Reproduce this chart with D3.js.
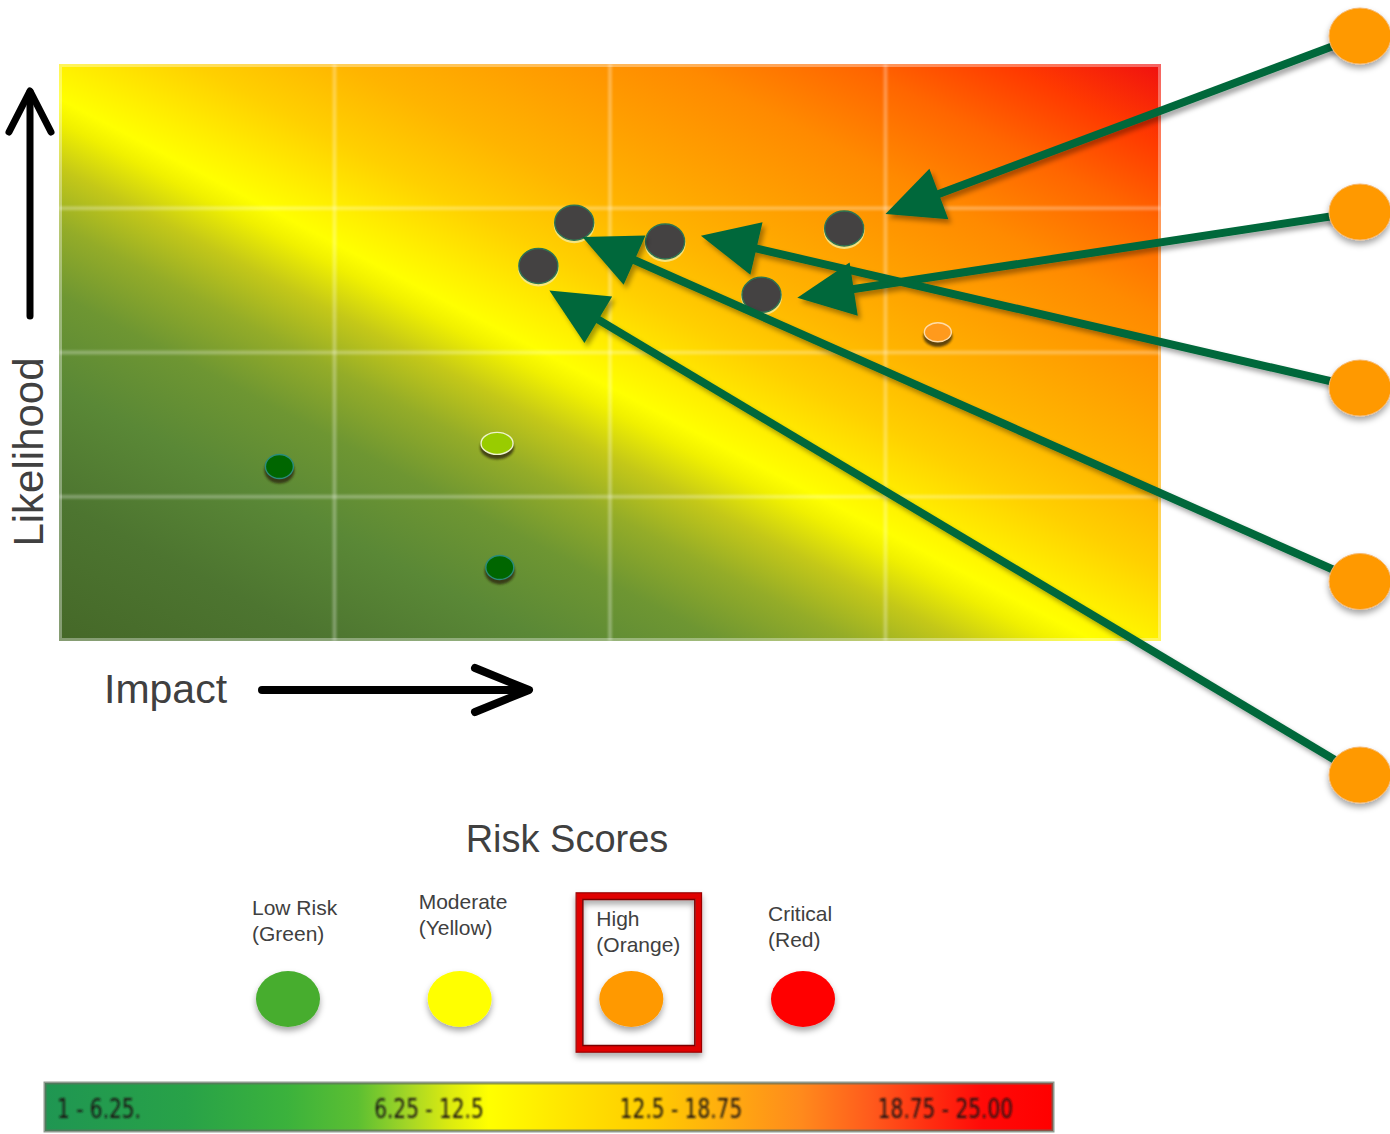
<!DOCTYPE html>
<html>
<head>
<meta charset="utf-8">
<script src="https://cdn.jsdelivr.net/npm/d3@7"></script>
<style>
  html, body { margin: 0; padding: 0; background: #ffffff; }
  svg { display: block; font-family: "Liberation Sans", Arial, Helvetica, sans-serif; }
</style>
</head>
<body>
<svg id="chart" width="1390" height="1134"></svg>
<script>
// ---------------- data ----------------
// Impact / likelihood bands (0–4); inner boundaries get grid lines
const bandEdges = [1, 2, 3];

// Heat colour ramp along the combined impact + likelihood score (0 = low/low, 1 = high/high)
const heatStops  = [0, 0.12, 0.22, 0.30, 0.36, 0.41, 0.45, 0.47, 0.50, 0.56, 0.63, 0.70, 0.78, 0.86, 0.93, 1];
const heatColors = ["#456828", "#4d7530", "#5a8836", "#6e9632", "#94ac28", "#c4c818", "#f0f000", "#ffff00",
                    "#fff000", "#ffd000", "#ffb400", "#ffa000", "#ff8a00", "#ff6600", "#ff3a00", "#f01010"];

// Plotted risks
const riskImpact     = [1.87, 2.20, 2.85, 1.74, 2.55, 3.19, 1.59, 0.80, 1.60];
const riskLikelihood = [2.90, 2.77, 2.86, 2.60, 2.40, 2.14, 1.37, 1.21, 0.51];
const riskStatus     = ["flagged", "flagged", "flagged", "flagged", "flagged", "high", "moderate", "low", "low"];

// High-rated callouts and where each one points on the grid
const calloutIds           = ["A", "B", "C", "D", "E"];
const calloutTipImpact     = [3.00, 2.68, 2.33, 1.90, 1.78];
const calloutTipLikelihood = [2.96, 2.38, 2.81, 2.80, 2.43];

// Risk score legend
const levelNames   = ["Low Risk", "Moderate", "High", "Critical"];
const levelColours = ["(Green)", "(Yellow)", "(Orange)", "(Red)"];
const highlightedLevel = "High";

// Score bar
const scoreRanges     = ["1 - 6.25.", "6.25 - 12.5", "12.5 - 18.75", "18.75 - 25.00"];
const scoreRampStops  = [0, 0.14, 0.24, 0.31, 0.36, 0.40, 0.44, 0.52, 0.60, 0.68, 0.75, 0.82, 0.88, 0.93, 1];
const scoreRampColors = ["#1f9652", "#28a248", "#3bb23c", "#5cbf32", "#a4d626", "#daea10", "#ffff00", "#ffe400",
                         "#ffcc00", "#ffaa10", "#ff8a1c", "#ff5a1c", "#ff2c10", "#ff0a08", "#ff0000"];

// ---------------- styles ----------------
const textColor = "#404040";
const arrowColor = "#04683a";
const statusStyle = {
  flagged:  { fill: "#444242", stroke: "#2e7452", rx: 19.5, ry: 17.5 },
  high:     { fill: "#ff9a1c", stroke: "#ffdca8", rx: 13.5, ry: 9.5 },
  moderate: { fill: "#99cc00", stroke: "#eef4cc", rx: 16,   ry: 11 },
  low:      { fill: "#006600", stroke: "#2a8c7c", rx: 14,   ry: 12 }
};
const levelFill = { "Low Risk": "#46ad2e", "Moderate": "#ffff00", "High": "#ff9900", "Critical": "#ff0000" };

// ---------------- setup ----------------
const svg = d3.select("#chart");
const defs = svg.append("defs");

const x = d3.scaleLinear().domain([0, 4]).range([59, 1161]);
const y = d3.scaleLinear().domain([0, 4]).range([641, 64]);

// shadows
function dropShadow(id, dx, dy, sd, op) {
  const f = defs.append("filter").attr("id", id)
    .attr("x", "-30%").attr("y", "-30%").attr("width", "160%").attr("height", "160%");
  f.append("feDropShadow").attr("dx", dx).attr("dy", dy).attr("stdDeviation", sd)
    .attr("flood-color", "#000").attr("flood-opacity", op);
}
dropShadow("arrowShadow", 3, 4, 2.5, 0.35);
dropShadow("discShadow", 0, 4, 3, 0.35);
defs.append("filter").attr("id", "soft").append("feGaussianBlur").attr("stdDeviation", 1);

// ---------------- heat map ----------------
const heatRamp = d3.scaleLinear().domain(heatStops).range(heatColors);
const heatGrad = defs.append("linearGradient").attr("id", "heat")
  .attr("x1", 0).attr("y1", 1).attr("x2", 1).attr("y2", 0);
heatGrad.selectAll("stop").data(heatStops).join("stop")
  .attr("offset", d => d).attr("stop-color", d => heatRamp(d));

const plot = svg.append("g");
plot.append("rect")
  .attr("x", x(0)).attr("y", y(4))
  .attr("width", x(4) - x(0)).attr("height", y(0) - y(4))
  .attr("fill", "url(#heat)");

// pale frame on the map edges
plot.append("rect")
  .attr("x", x(0) + 1.5).attr("y", y(4) + 1.5)
  .attr("width", x(4) - x(0) - 3).attr("height", y(0) - y(4) - 3)
  .attr("fill", "none").attr("stroke", "#ffffff").attr("stroke-opacity", 0.35).attr("stroke-width", 3);

// band grid
const grid = plot.append("g").attr("filter", "url(#soft)")
  .attr("stroke", "#ffffff").attr("stroke-opacity", 0.28).attr("stroke-width", 4);
grid.selectAll("line.v").data(bandEdges).join("line").attr("class", "v")
  .attr("x1", d => x(d)).attr("x2", d => x(d)).attr("y1", y(0)).attr("y2", y(4));
grid.selectAll("line.h").data(bandEdges).join("line").attr("class", "h")
  .attr("y1", d => y(d)).attr("y2", d => y(d)).attr("x1", x(0)).attr("x2", x(4));

// risk points
const risks = riskImpact.map((v, i) => ({ impact: v, likelihood: riskLikelihood[i], status: riskStatus[i] }));
const pts = plot.append("g");
pts.selectAll("ellipse.under").data(risks).join("ellipse").attr("class", "under")
  .attr("cx", d => x(d.impact))
  .attr("cy", d => y(d.likelihood) + (d.status === "flagged" ? 2 : 4))
  .attr("rx", d => statusStyle[d.status].rx + 1)
  .attr("ry", d => statusStyle[d.status].ry + 1)
  .attr("fill", d => d.status === "flagged" ? "#f4e78c" : "#2a2410")
  .attr("opacity", d => d.status === "flagged" ? 0.9 : 0.75)
  .attr("filter", d => d.status === "flagged" ? null : "url(#soft)");
pts.selectAll("ellipse.dot").data(risks).join("ellipse").attr("class", "dot")
  .attr("cx", d => x(d.impact))
  .attr("cy", d => y(d.likelihood))
  .attr("rx", d => statusStyle[d.status].rx)
  .attr("ry", d => statusStyle[d.status].ry)
  .attr("fill", d => statusStyle[d.status].fill)
  .attr("stroke", d => statusStyle[d.status].stroke)
  .attr("stroke-width", 1.4);

// ---------------- callouts ----------------
const calloutX = 1360;
// callout column: upper pair sits a little tighter than the lower pair
const calloutY = d3.scaleLinear().domain([0, 2, 4]).range([36, 388, 775]);
const headLen = 57, headHalf = 27;

const callouts = calloutIds.map((id, i) => {
  const sx = calloutX, sy = calloutY(i);
  const tx = x(calloutTipImpact[i]), ty = y(calloutTipLikelihood[i]);
  const len = Math.hypot(tx - sx, ty - sy);
  const ux = (tx - sx) / len, uy = (ty - sy) / len;
  const bx = tx - ux * headLen, by = ty - uy * headLen;
  return {
    id, sx, sy, tx, ty,
    ex: bx + ux * 3, ey: by + uy * 3,
    head: [[tx, ty], [bx - uy * headHalf, by + ux * headHalf], [bx + uy * headHalf, by - ux * headHalf]]
  };
});

const arrows = svg.append("g").attr("filter", "url(#arrowShadow)");
arrows.selectAll("line").data(callouts).join("line")
  .attr("x1", d => d.sx).attr("y1", d => d.sy)
  .attr("x2", d => d.ex).attr("y2", d => d.ey)
  .attr("stroke", arrowColor).attr("stroke-width", 8);
arrows.selectAll("path").data(callouts).join("path")
  .attr("d", d => d3.line()(d.head) + "Z")
  .attr("fill", arrowColor);

svg.append("g").attr("filter", "url(#discShadow)")
  .selectAll("ellipse").data(callouts).join("ellipse")
  .attr("cx", d => d.sx).attr("cy", d => d.sy)
  .attr("rx", 31).attr("ry", 28)
  .attr("fill", "#ff9900").attr("stroke", "#f6b870").attr("stroke-width", 1);

// ---------------- axis arrows and titles ----------------
const axes = svg.append("g").attr("stroke", "#000").attr("stroke-width", 7)
  .attr("stroke-linecap", "round").attr("stroke-linejoin", "round").attr("fill", "none");
axes.append("line").attr("x1", 30).attr("y1", 316).attr("x2", 30).attr("y2", 92);
axes.append("polyline").attr("points", "9,132 30,91 51,132");
axes.append("line").attr("x1", 262).attr("y1", 690).attr("x2", 527).attr("y2", 690).attr("stroke-width", 8);
axes.append("polyline").attr("points", "475,668 529,690 475,712").attr("stroke-width", 8);

svg.append("text")
  .attr("transform", "translate(43,452) rotate(-90)")
  .attr("text-anchor", "middle")
  .attr("font-size", 42).attr("fill", textColor)
  .text("Likelihood");
svg.append("text")
  .attr("x", 104).attr("y", 703)
  .attr("font-size", 41).attr("fill", textColor)
  .text("Impact");

// ---------------- legend ----------------
svg.append("text")
  .attr("x", 567).attr("y", 852).attr("text-anchor", "middle")
  .attr("font-size", 38).attr("fill", textColor)
  .text("Risk Scores");

const lx = d3.scalePoint().domain(levelNames).range([288, 803]);
const legendCy = 999;
const labelDy = [-84, -90, -73, -78];
const labelDx = [-36, -41, -35, -35];

const hx = lx(highlightedLevel);
const box = svg.append("g").attr("filter", "url(#discShadow)");
box.append("rect").attr("x", hx - 52).attr("y", 896).attr("width", 119).attr("height", 153)
  .attr("fill", "none").attr("stroke", "#e00000").attr("stroke-width", 6);
box.append("rect").attr("x", hx - 48.5).attr("y", 899.5).attr("width", 112).attr("height", 146)
  .attr("fill", "none").attr("stroke", "#7a0000").attr("stroke-width", 1.5);
box.append("rect").attr("x", hx - 55.2).attr("y", 892.8).attr("width", 125.4).attr("height", 159.4)
  .attr("fill", "none").attr("stroke", "#9a0000").attr("stroke-width", 1.2);

const legend = svg.append("g");
legend.selectAll("ellipse").data(levelNames).join("ellipse")
  .attr("cx", d => lx(d)).attr("cy", legendCy)
  .attr("rx", 32).attr("ry", 28)
  .attr("fill", d => levelFill[d])
  .attr("filter", "url(#discShadow)");
const lt = legend.selectAll("text").data(levelNames).join("text")
  .attr("x", (d, i) => lx(d) + labelDx[i])
  .attr("y", (d, i) => legendCy + labelDy[i])
  .attr("font-size", 21).attr("fill", textColor);
lt.append("tspan").text(d => d);
lt.append("tspan").attr("x", (d, i) => lx(d) + labelDx[i]).attr("dy", 26).text((d, i) => levelColours[i]);

// ---------------- score bar ----------------
const bar = { x0: 45, x1: 1053, y: 1083, h: 48 };
const rampScale = d3.scaleLinear().domain(scoreRampStops).range(scoreRampColors);
const barGrad = defs.append("linearGradient").attr("id", "scoreRamp")
  .attr("x1", 0).attr("y1", 0).attr("x2", 1).attr("y2", 0);
barGrad.selectAll("stop").data(scoreRampStops).join("stop")
  .attr("offset", d => d).attr("stop-color", d => rampScale(d));

svg.append("rect")
  .attr("x", bar.x0).attr("y", bar.y).attr("width", bar.x1 - bar.x0).attr("height", bar.h)
  .attr("fill", "url(#scoreRamp)")
  .attr("stroke", "#5f6f60").attr("stroke-opacity", 0.7).attr("stroke-width", 3);

const band = d3.scaleBand().domain(scoreRanges).range([bar.x0, bar.x1]);
const anchors = ["start", "middle", "middle", "end"];
const rangeLabels = svg.append("g").attr("filter", "url(#soft)").selectAll("text").data(scoreRanges).join("text")
  .attr("x", (d, i) => i === 0 ? bar.x0 + 12 : i === scoreRanges.length - 1 ? bar.x1 - 40 : band(d) + band.bandwidth() / 2 + 6)
  .attr("y", bar.y + 35)
  .attr("text-anchor", (d, i) => anchors[i])
  .attr("font-family", "'Liberation Sans Narrow', 'DejaVu Sans Condensed', sans-serif")
  .attr("font-size", 26)
  .attr("fill", "#1a1414")
  .text(d => d);
// condensed look: squeeze each label horizontally
rangeLabels.each(function () {
  const w = this.getComputedTextLength();
  d3.select(this).attr("textLength", w * 0.86).attr("lengthAdjust", "spacingAndGlyphs");
});
</script>
</body>
</html>
